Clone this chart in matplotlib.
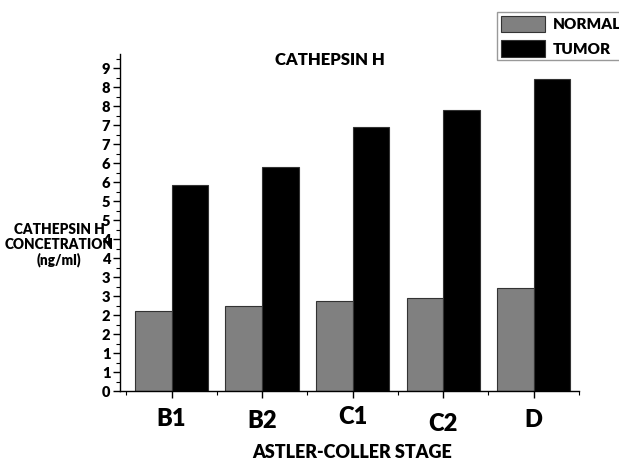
import matplotlib
matplotlib.use("Agg")
import matplotlib.pyplot as plt
import matplotlib.transforms as mtrans
from matplotlib.ticker import FixedLocator, MultipleLocator
import numpy as np

stages = ["B1", "B2", "C1", "C2", "D"]
normal = [2.11, 2.24, 2.37, 2.44, 2.70]
tumor = [5.42, 5.89, 6.96, 7.39, 8.20]
ytick_vals = [0, 0.5, 1, 1.5, 2, 2.5, 3, 3.5, 4, 4.5, 5, 5.5, 6, 6.5, 7, 7.5, 8, 8.5]
ytick_labels = ["0", "1", "1", "2", "2", "3", "3", "4", "4", "5", "5", "6", "6", "7", "7", "8", "8", "9"]

FONT = "Lato"
WT = "heavy"
plt.rcParams["font.family"] = [FONT, "DejaVu Sans"]
plt.rcParams["font.weight"] = WT

W, H = 619, 461
fig = plt.figure(figsize=(W / 100, H / 100), dpi=100)
ax = fig.add_axes([120 / W, 1 - 391 / H, (579 - 120) / W, (391 - 54) / H])

x = np.arange(1, len(stages) + 1)
bw = 0.405
ax.bar(x - bw / 2, normal, bw, color="#808080", edgecolor="#333333", linewidth=0.8, label="NORMAL")
ax.bar(x + bw / 2, tumor, bw, color="#000000", edgecolor="#333333", linewidth=0.8, label="TUMOR")

ax.set_xlim(0.43, 5.5)
ax.set_ylim(0, 8.87)
ax.spines["top"].set_visible(False)
ax.spines["right"].set_visible(False)
ax.spines["left"].set_linewidth(1.0)
ax.spines["bottom"].set_linewidth(1.0)

ax.set_xticks(x)
ax.set_xticklabels(stages, fontsize=17, fontweight=WT)
ax.xaxis.set_minor_locator(FixedLocator(list(np.arange(0.5, 5.6, 1.0))))
ax.set_yticks(ytick_vals)
ax.set_yticklabels(ytick_labels, fontsize=10.5, fontweight=WT)
ax.yaxis.set_minor_locator(MultipleLocator(0.25))
ax.tick_params(axis="both", which="major", direction="out", length=5, width=1.0)
ax.tick_params(axis="both", which="minor", direction="out", length=3, width=0.8)
ax.tick_params(axis="x", which="major", pad=6)
ax.tick_params(axis="y", which="major", pad=2)

label_dy = [-1, -3, 0, -5, -2]
for lbl, dy in zip(ax.get_xticklabels(), label_dy):
    lbl.set_transform(lbl.get_transform() + mtrans.ScaledTranslation(0, dy / 72, fig.dpi_scale_trans))

fig.text(330 / W, 1 - 60 / H, "CATHEPSIN H", ha="center", va="center", fontsize=12, fontweight=WT)
fig.text(352 / W, 1 - 452 / H, "ASTLER-COLLER STAGE", ha="center", va="center", fontsize=13, fontweight=WT)
fig.text(59 / W, 1 - 245 / H, "CATHEPSIN H\nCONCETRATION\n(ng/ml)", ha="center", va="center",
         fontsize=9.8, fontweight=WT, linespacing=1.15)

leg = fig.legend(loc="upper left", bbox_to_anchor=(497 / W, 1 - 12 / H), fontsize=11,
                 handlelength=2.9, handleheight=1.25, handletextpad=0.5, borderpad=0.25,
                 labelspacing=0.55, fancybox=False, frameon=True, borderaxespad=0)
leg.get_frame().set_edgecolor("#808080")
leg.get_frame().set_linewidth(1.0)
for t in leg.get_texts():
    t.set_fontweight(WT)

fig.savefig("out.png", dpi=100)
